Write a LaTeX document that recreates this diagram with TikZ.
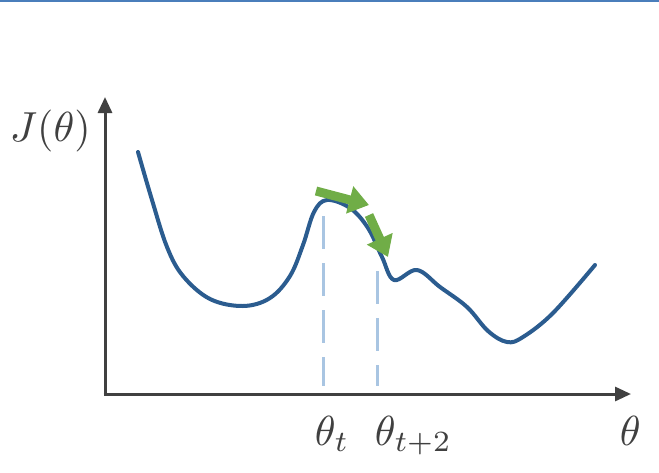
\documentclass[tikz,border=0pt]{standalone}
\usepackage{xcolor}
\usepackage{amsmath}
\usepackage{tikz}
\usetikzlibrary{arrows.meta,positioning,calc}
\definecolor{curveblue}{HTML}{2B5C8F}
\definecolor{axisgray}{HTML}{404040}
\definecolor{dashblue}{HTML}{A9C5E2}
\definecolor{stepgreen}{HTML}{70AD47}
\definecolor{framblue}{HTML}{4A7EBB}

\begin{document}
\begin{tikzpicture}[
  x=1pt,y=-1pt,
  axis/.style={draw=axisgray,line width=3pt,-{Triangle[length=16pt,width=14pt]}},
  cost/.style={draw=curveblue,line width=4pt,line cap=round,line join=round},
  guide/.style={draw=dashblue,line width=3pt,dash pattern=on 33pt off 14pt},
  gstep/.style={draw=stepgreen,line width=9pt,-{Triangle[length=20pt,width=27pt]}},
  lbl/.style={inner sep=0pt,text=axisgray,scale=4.2}
]
\useasboundingbox (0,0) rectangle (659,472);
\draw[framblue,line width=2.5pt] (0,1) -- (659,1);
% axes
\coordinate (o) at (105,394);
\coordinate (ytip) at (105,97);
\coordinate (xtip) at (631,394);
\draw[axis] (o) -- (ytip);
\draw[axis] ([xshift=-1.5pt]o) -- (xtip);
% labels
\node[lbl,anchor=base west] (jlab) at (9,141) {$J(\theta)$};
\node[lbl,anchor=base west] (thlab) at (619,445) {$\theta$};
\node[lbl,anchor=base west] (tt) at (314,445) {$\theta_t$};
\node[lbl,anchor=base west] (tt2) at (374,445) {$\theta_{t+2}$};
% guides
\coordinate (g1top) at (323,216);
\coordinate (g1bot) at (323,386);
\coordinate (g2top) at (377,271);
\coordinate (g2bot) at (377,386);
\draw[guide] (g1top) -- (g1bot);
\draw[guide] (g2top) -- (g2bot);
% cost curve
\draw[cost] plot[smooth,tension=0.6] coordinates {
  (138,152) (152,200) (167,247) (183,276) (210,299)
  (243,306) (270,298) (290,276) (303,245) (314,212) (327,200)
  (350,208) (368,228) (382,257) (394,280) (417,270) (440,287) (467,307)
  (488,331) (507,342) (523,337) (553,313) (595,265)};
% steps
\coordinate (s1) at (316,191);
\coordinate (s2) at (369,205);
\coordinate (s3) at (369,215);
\coordinate (s4) at (388,257);
\draw[gstep] (s1) -- (s2);
\draw[gstep] (s3) -- (s4);
\end{tikzpicture}
\end{document}
